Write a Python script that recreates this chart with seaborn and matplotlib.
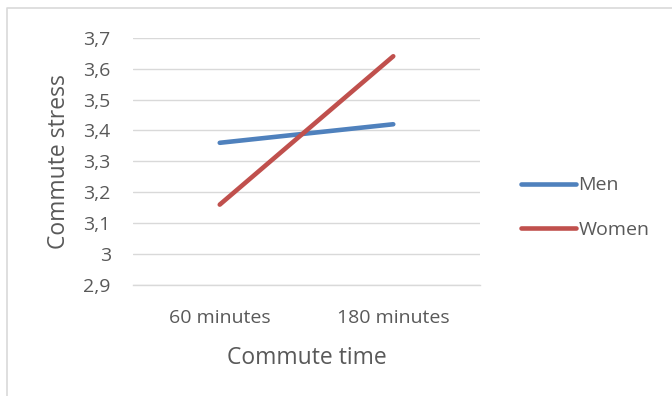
import matplotlib
matplotlib.use("Agg")
import matplotlib.pyplot as plt
from matplotlib.lines import Line2D
import seaborn as sns
import pandas as pd

# Data
commute_times = ["60 minutes", "180 minutes"]
men_stress = [3.36, 3.42]
women_stress = [3.16, 3.64]
series_names = ["Men", "Women"]
y_ticks = [2.9, 3.0, 3.1, 3.2, 3.3, 3.4, 3.5, 3.6, 3.7]
y_tick_labels = ["2,9", "3", "3,1", "3,2", "3,3", "3,4", "3,5", "3,6", "3,7"]

df = pd.DataFrame({
    "Commute time": commute_times * 2,
    "Commute stress": men_stress + women_stress,
    "Group": [series_names[0]] * 2 + [series_names[1]] * 2,
})

sns.set_theme(style="white")
plt.rcParams["font.family"] = ["Open Sans", "DejaVu Sans"]

text_color = "#595959"
grid_color = "#d9d9d9"
palette = {"Men": "#4f81bd", "Women": "#c0504d"}
tick_size = 14
title_size = 16.5

fig = plt.figure(figsize=(6.72, 3.96), dpi=100)
ax = fig.add_axes([133 / 672, 1 - 285 / 396, (480 - 133) / 672, (285 - 37.7) / 396])

sns.lineplot(data=df, x="Commute time", y="Commute stress", hue="Group",
             palette=palette, linewidth=3.3, ax=ax, legend=False,
             solid_capstyle="round", sort=False)

ax.set_xlim(-0.5, 1.5)
ax.set_ylim(2.9, 3.7)
ax.set_yticks(y_ticks)
ax.set_yticklabels(y_tick_labels)
ax.set_xticks([0, 1])
ax.set_xticklabels(commute_times)
ax.set_xticks([-0.5, 0.5, 1.5], minor=True)
ax.tick_params(axis="x", which="major", length=0, pad=17, labelsize=tick_size, colors=text_color)
ax.tick_params(axis="x", which="minor", length=6, width=1, color=grid_color)
ax.tick_params(axis="y", length=0, pad=16, labelsize=tick_size, colors=text_color)

ax.grid(axis="y", color=grid_color, linewidth=1)
ax.set_axisbelow(True)
for side in ["top", "right", "left"]:
    ax.spines[side].set_visible(False)
ax.spines["bottom"].set_color(grid_color)
ax.spines["bottom"].set_linewidth(1)

ax.set_xlabel("Commute time", fontsize=title_size, color=text_color, labelpad=14)
ax.set_ylabel("Commute stress", fontsize=title_size, color=text_color, labelpad=9)

handles = [Line2D([0], [0], color=palette[n], linewidth=3.3, solid_capstyle="round")
           for n in series_names]
fig.legend(handles, series_names, loc="center left",
           bbox_to_anchor=(503 / 672, 1 - 207.5 / 396), frameon=False,
           fontsize=tick_size, labelcolor=text_color, handlelength=2.85,
           handletextpad=0.12, labelspacing=1.35)

# Chart area border
fig.add_artist(Line2D([7 / 672, 7 / 672, 1.0], [0.0, 1 - 8 / 396, 1 - 8 / 396],
                      transform=fig.transFigure, color=grid_color, linewidth=1.2))

fig.savefig("out.png", dpi=100)
